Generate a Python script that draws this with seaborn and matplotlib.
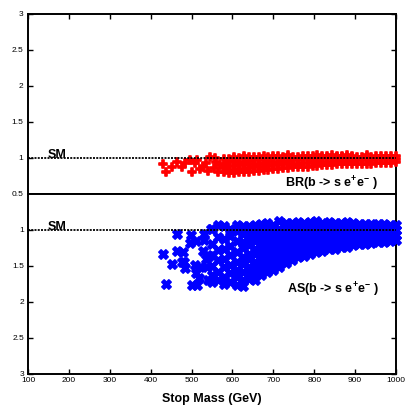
import matplotlib

matplotlib.use("Agg")
import matplotlib.pyplot as plt
import pandas as pd
import seaborn as sns

FONT = ["Liberation Sans Narrow", "Liberation Sans", "DejaVu Sans"]

x_ticks = [100, 200, 300, 400, 500, 600, 700, 800, 900, 1000]
br_y_ticks = [0.5, 1, 1.5, 2, 2.5, 3]
br_y_labels = ["0.5", "1", "1.5", "2", "2.5", "3"]
as_y_ticks = [1, 1.5, 2, 2.5, 3]
as_y_labels = ["1", "1.5", "2", "2.5", "3"]

# BR(b -> s e+e-) normalised to the SM: sparse points at low stop mass
br_sparse_mass = [431, 437, 453, 464, 476, 484, 496, 500, 508, 514, 520, 527, 535, 541, 545,
                  555, 558, 560, 565, 570]
br_sparse_ratio = [0.91, 0.81, 0.87, 0.95, 0.88, 0.93, 0.97, 0.80, 0.93, 0.97, 0.85, 0.88, 0.93,
                   0.82, 1.02, 0.86, 1.00, 0.95, 0.80, 0.90]

# dense part, one list of ratios per stop mass
br_band_mass = [580, 592, 604, 616, 628, 640, 652, 664, 676, 688, 700, 712, 724, 736, 748, 760,
                772, 784, 796, 808, 820, 832, 844, 856, 868, 880, 892, 904, 916, 928, 940, 952,
                964, 976, 988, 1000]
br_band_ratio = [
    [0.80, 0.86, 0.92, 0.98],
    [0.79, 0.84, 0.89, 0.94, 0.99],
    [0.79, 0.84, 0.89, 0.94, 0.99, 1.02],
    [0.80, 0.85, 0.90, 0.95, 1.00],
    [0.80, 0.85, 0.90, 0.95, 1.00, 1.03],
    [0.81, 0.86, 0.91, 0.96, 1.01],
    [0.82, 0.87, 0.92, 0.97, 1.02],
    [0.82, 0.87, 0.92, 0.97, 1.02],
    [0.83, 0.88, 0.93, 0.98, 1.03],
    [0.84, 0.89, 0.94, 0.99, 1.02],
    [0.85, 0.90, 0.95, 1.00, 1.03],
    [0.85, 0.90, 0.95, 1.00, 1.03],
    [0.86, 0.91, 0.96, 1.01],
    [0.86, 0.91, 0.96, 1.01, 1.04],
    [0.87, 0.92, 0.97, 1.02],
    [0.87, 0.92, 0.97, 1.02],
    [0.88, 0.93, 0.98, 1.03],
    [0.88, 0.93, 0.98, 1.03],
    [0.89, 0.94, 0.99, 1.03],
    [0.89, 0.94, 0.99, 1.04],
    [0.90, 0.95, 1.00, 1.03],
    [0.90, 0.95, 1.00, 1.03],
    [0.90, 0.95, 1.00, 1.04],
    [0.91, 0.96, 1.01, 1.03],
    [0.91, 0.96, 1.01, 1.03],
    [0.91, 0.96, 1.01, 1.04],
    [0.91, 0.96, 1.01, 1.03],
    [0.92, 0.97, 1.02],
    [0.92, 0.97, 1.02],
    [0.92, 0.97, 1.02, 1.04],
    [0.92, 0.97, 1.02],
    [0.93, 0.98, 1.03],
    [0.93, 0.98, 1.03],
    [0.93, 0.98, 1.03],
    [0.93, 0.98, 1.03],
    [0.94, 0.99, 1.03],
]

# AS(b -> s e+e-) normalised to the SM
as_sparse_mass = [431, 437, 453, 464, 464, 476, 478, 481, 484, 496, 498, 500, 514, 510, 508,
                  512, 518, 520, 530, 528, 530, 535, 537, 540, 547, 543]
as_sparse_ratio = [1.33, 1.75, 1.47, 1.05, 1.29, 1.45, 1.31, 1.44, 1.53, 1.18, 1.07, 1.77, 1.77,
                   1.15, 1.49, 1.60, 1.67, 1.52, 1.06, 1.29, 1.14, 1.40, 1.51, 1.70, 0.98, 1.36]

as_band_mass = [550, 565, 580, 595, 610, 625, 640, 655, 670, 685, 700, 715, 730, 745, 760, 775,
                790, 805, 820, 835, 850, 865, 880, 895, 910, 925, 940, 955, 970, 985, 1000]
as_band_ratio = [
    [0.98, 1.20, 1.35, 1.50, 1.63, 1.72],
    [0.93, 1.10, 1.28, 1.42, 1.58, 1.70],
    [0.95, 1.12, 1.26, 1.40, 1.52, 1.65, 1.75],
    [0.98, 1.08, 1.22, 1.35, 1.48, 1.60, 1.72],
    [0.93, 1.02, 1.15, 1.30, 1.44, 1.55, 1.65, 1.76],
    [0.94, 1.06, 1.16, 1.25, 1.38, 1.47, 1.58, 1.70, 1.78],
    [0.94, 1.03, 1.12, 1.21, 1.33, 1.40, 1.52, 1.60, 1.68],
    [0.93, 1.00, 1.08, 1.15, 1.26, 1.34, 1.45, 1.53, 1.62, 1.70],
    [0.92, 0.99, 1.06, 1.13, 1.20, 1.27, 1.34, 1.41, 1.48, 1.55, 1.62],
    [0.90, 0.97, 1.04, 1.11, 1.18, 1.25, 1.32, 1.39, 1.46, 1.53, 1.58],
    [0.93, 1.00, 1.07, 1.14, 1.21, 1.28, 1.35, 1.42, 1.49, 1.55],
    [0.88, 0.98, 1.05, 1.12, 1.19, 1.26, 1.33, 1.40, 1.47, 1.51],
    [0.90, 0.97, 1.04, 1.11, 1.18, 1.25, 1.32, 1.39, 1.46],
    [0.90, 0.97, 1.04, 1.11, 1.18, 1.25, 1.32, 1.38, 1.42],
    [0.89, 0.96, 1.03, 1.10, 1.17, 1.24, 1.31, 1.38],
    [0.90, 0.97, 1.04, 1.11, 1.18, 1.25, 1.31, 1.36],
    [0.89, 0.96, 1.03, 1.10, 1.17, 1.24, 1.29, 1.34],
    [0.88, 0.96, 1.03, 1.10, 1.17, 1.24, 1.31],
    [0.90, 0.97, 1.04, 1.11, 1.18, 1.24, 1.29],
    [0.89, 0.96, 1.03, 1.10, 1.17, 1.23, 1.27],
    [0.90, 0.97, 1.04, 1.11, 1.18, 1.26],
    [0.90, 0.97, 1.04, 1.11, 1.18, 1.24],
    [0.89, 0.98, 1.05, 1.12, 1.18, 1.23],
    [0.90, 0.97, 1.04, 1.11, 1.17, 1.21],
    [0.91, 0.98, 1.05, 1.12, 1.20],
    [0.92, 0.99, 1.06, 1.13, 1.19],
    [0.91, 0.98, 1.05, 1.12, 1.18],
    [0.92, 0.99, 1.06, 1.12, 1.17],
    [0.92, 0.99, 1.06, 1.12, 1.16],
    [0.93, 1.00, 1.07, 1.15],
    [0.93, 1.00, 1.07, 1.14],
]


def to_frame(sparse_mass, sparse_ratio, band_mass, band_ratio):
    rows = list(zip(sparse_mass, sparse_ratio))
    for mass, ratios in zip(band_mass, band_ratio):
        rows.extend((mass, r) for r in ratios)
    return pd.DataFrame(rows, columns=["mass", "ratio"])


br = to_frame(br_sparse_mass, br_sparse_ratio, br_band_mass, br_band_ratio)
asym = to_frame(as_sparse_mass, as_sparse_ratio, as_band_mass, as_band_ratio)

sns.set_style("ticks")
plt.rcParams["font.family"] = FONT
plt.rcParams["mathtext.fontset"] = "custom"
plt.rcParams["mathtext.rm"] = "Liberation Sans:bold"
plt.rcParams["mathtext.default"] = "rm"
for key in ("text.color", "axes.labelcolor", "xtick.color", "ytick.color"):
    plt.rcParams[key] = "black"

fig = plt.figure(figsize=(4.09, 4.09), dpi=100)
ax_br = fig.add_axes([28 / 409, 215 / 409, 368 / 409, 180 / 409])
ax_as = fig.add_axes([28 / 409, 35 / 409, 368 / 409, 180 / 409])

sns.scatterplot(data=br, x="mass", y="ratio", ax=ax_br, marker="P", s=30, color="#ff0000",
                edgecolor="#ff0000", linewidth=1.2, clip_on=False, zorder=2)
sns.scatterplot(data=asym, x="mass", y="ratio", ax=ax_as, marker="X", s=46, color="#0000ff",
                edgecolor="#0000ff", linewidth=1.1, clip_on=False, zorder=2)

for ax in (ax_br, ax_as):
    ax.axhline(1, color="black", lw=1.3, linestyle=(0, (1.1, 0.7)), zorder=3)
    ax.text(149, 1.005, "SM", fontsize=9, fontweight="bold", va="baseline", zorder=4)
    ax.set_xlim(100, 1000)
    ax.set_xticks(x_ticks)
    ax.set_ylabel("")
    for spine in ax.spines.values():
        spine.set_linewidth(1.4)
        spine.set_color("black")
        spine.set_zorder(1)

ax_br.set_ylim(0.5, 3)
ax_br.set_yticks(br_y_ticks, br_y_labels)
ax_br.tick_params(direction="in", length=3.5, width=1, top=True, bottom=False, left=True,
                  right=True, labelbottom=False, labelsize=6, pad=3.5)
ax_br.set_xlabel("")
ax_br.text(842, 0.646, "BR(b -> s e$^{+}$e$^{-}$ )", fontsize=9, fontweight="bold",
           ha="center", va="center")

ax_as.set_ylim(3, 0.5)
ax_as.set_yticks(as_y_ticks, as_y_labels)
ax_as.tick_params(direction="in", length=3.5, width=1, top=False, bottom=True, left=True,
                  right=True, labelsize=6, pad=2.5)
ax_as.set_xlabel("Stop Mass (GeV)", fontsize=9, fontweight="bold", labelpad=6)
ax_as.text(846, 1.83, "AS(b -> s e$^{+}$e$^{-}$ )", fontsize=9, fontweight="bold",
           ha="center", va="center")

fig.savefig("out.png", dpi=100)
plt.close(fig)
